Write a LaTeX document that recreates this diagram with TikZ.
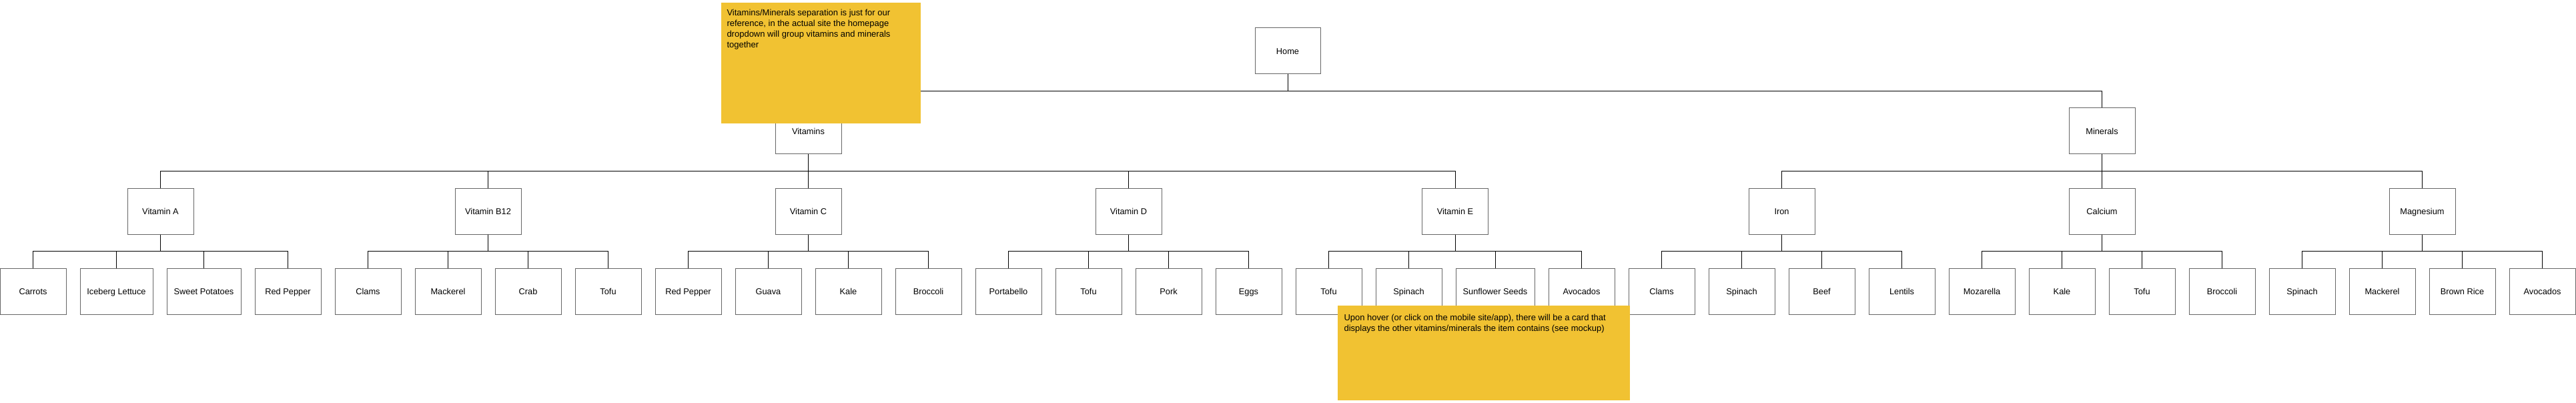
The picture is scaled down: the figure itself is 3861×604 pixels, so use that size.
\documentclass[tikz,border=0pt]{standalone}
\usepackage{fontspec}
\setmainfont{Liberation Sans}
\usetikzlibrary{calc}
\definecolor{stickyyellow}{HTML}{F1C232}
\definecolor{boxgray}{HTML}{666666}
\tikzset{
  item/.style={draw=boxgray,fill=white,minimum width=99pt,minimum height=69pt,inner sep=0pt,text height=9.4pt,text depth=0pt,font=\fontsize{12.8}{15}\selectfont},
  bus/.style={to path={|- ($(\tikztostart)!0.5!(\tikztotarget)$) -| (\tikztotarget)}},
  sticky/.style={fill=stickyyellow,draw=none},
  stickytext/.style={anchor=north west,align=left,inner sep=0pt,font=\fontsize{13}{15.7}\selectfont}
}
\begin{document}
\begin{tikzpicture}[x=1pt,y=-1pt,line width=1pt]
\useasboundingbox (0,0) rectangle (3861,604);

%home and groups
\node[item,minimum width=98pt] (home) at (1930,76.5) {Home};
\node[item] (vitamins) at (1211.5,196.5) {Vitamins};
\node[item] (minerals) at (3150.5,196.5) {Minerals};

%nutrients
\node[item] (vitA) at (240.5,316.5) {Vitamin A};
\node[item] (vitB) at (731.5,316.5) {Vitamin B12};
\node[item] (vitC) at (1211.5,316.5) {Vitamin C};
\node[item] (vitD) at (1691.5,316.5) {Vitamin D};
\node[item] (vitE) at (2181,316.5) {Vitamin E};
\node[item] (iron) at (2670.5,316.5) {Iron};
\node[item] (calcium) at (3150.5,316.5) {Calcium};
\node[item] (magnesium) at (3630.5,316.5) {Magnesium};

%foods, vitamins
\node[item] (carrots) at (49.5,436.5) {Carrots};
\node[item,minimum width=109pt] (iceberg) at (174.5,436.5) {Iceberg Lettuce};
\node[item,minimum width=111pt] (sweetpotatoes) at (305.5,436.5) {Sweet Potatoes};
\node[item] (redpepperA) at (431.5,436.5) {Red Pepper};

\node[item] (clamsB) at (551.5,436.5) {Clams};
\node[item] (mackerelB) at (671.5,436.5) {Mackerel};
\node[item] (crab) at (791.5,436.5) {Crab};
\node[item] (tofuB) at (911.5,436.5) {Tofu};

\node[item] (redpepperC) at (1031.5,436.5) {Red Pepper};
\node[item] (guava) at (1151.5,436.5) {Guava};
\node[item] (kaleC) at (1271.5,436.5) {Kale};
\node[item] (broccoliC) at (1391.5,436.5) {Broccoli};

\node[item] (portabello) at (1511.5,436.5) {Portabello};
\node[item] (tofuD) at (1631.5,436.5) {Tofu};
\node[item] (pork) at (1751.5,436.5) {Pork};
\node[item] (eggs) at (1871.5,436.5) {Eggs};

\node[item] (tofuE) at (1991.5,436.5) {Tofu};
\node[item] (spinachE) at (2111.5,436.5) {Spinach};
\node[item,minimum width=118pt] (sunflower) at (2241,436.5) {Sunflower Seeds};
\node[item] (avocadosE) at (2370.5,436.5) {Avocados};

%foods, minerals
\node[item] (clamsI) at (2490.5,436.5) {Clams};
\node[item] (spinachI) at (2610.5,436.5) {Spinach};
\node[item] (beef) at (2730.5,436.5) {Beef};
\node[item] (lentils) at (2850.5,436.5) {Lentils};

\node[item] (mozarella) at (2970.5,436.5) {Mozarella};
\node[item] (kaleCa) at (3090.5,436.5) {Kale};
\node[item] (tofuCa) at (3210.5,436.5) {Tofu};
\node[item] (broccoliCa) at (3330.5,436.5) {Broccoli};

\node[item] (spinachM) at (3450.5,436.5) {Spinach};
\node[item] (mackerelM) at (3570.5,436.5) {Mackerel};
\node[item] (brownrice) at (3690.5,436.5) {Brown Rice};
\node[item] (avocadosM) at (3810.5,436.5) {Avocados};

%links
\draw (home.south) to[bus] (vitamins.north);
\draw (home.south) to[bus] (minerals.north);
\foreach \n in {vitA,vitB,vitC,vitD,vitE}
  \draw (vitamins.south) to[bus] (\n.north);
\foreach \n in {iron,calcium,magnesium}
  \draw (minerals.south) to[bus] (\n.north);
\foreach \n in {carrots,iceberg,sweetpotatoes,redpepperA}
  \draw (vitA.south) to[bus] (\n.north);
\foreach \n in {clamsB,mackerelB,crab,tofuB}
  \draw (vitB.south) to[bus] (\n.north);
\foreach \n in {redpepperC,guava,kaleC,broccoliC}
  \draw (vitC.south) to[bus] (\n.north);
\foreach \n in {portabello,tofuD,pork,eggs}
  \draw (vitD.south) to[bus] (\n.north);
\foreach \n in {tofuE,spinachE,sunflower,avocadosE}
  \draw (vitE.south) to[bus] (\n.north);
\foreach \n in {clamsI,spinachI,beef,lentils}
  \draw (iron.south) to[bus] (\n.north);
\foreach \n in {mozarella,kaleCa,tofuCa,broccoliCa}
  \draw (calcium.south) to[bus] (\n.north);
\foreach \n in {spinachM,mackerelM,brownrice,avocadosM}
  \draw (magnesium.south) to[bus] (\n.north);

%sticky notes
\fill[sticky] (1081,4) rectangle (1380,185);
\node[stickytext] (noteone) at (1089,14) {Vitamins/Minerals separation is just for our\\reference, in the actual site the homepage\\dropdown will group vitamins and minerals\\together};
\fill[sticky] (2005,458) rectangle (2443,600);
\node[stickytext] (notetwo) at (2014,471) {Upon hover (or click on the mobile site/app), there will be a card that\\displays the other vitamins/minerals the item contains (see mockup)};
\end{tikzpicture}
\end{document}
